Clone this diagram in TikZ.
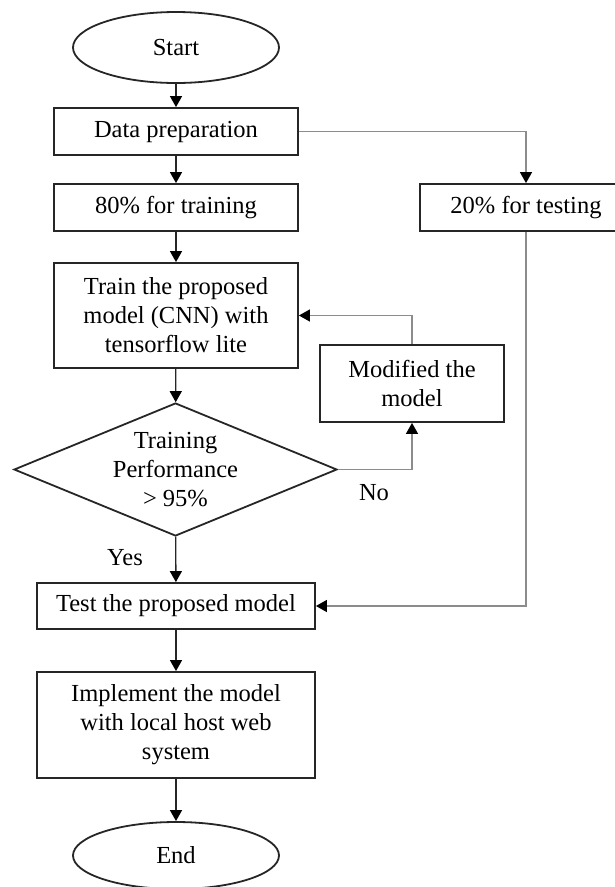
\documentclass[tikz,border=0pt]{standalone}
\usepackage{fontspec}
\setmainfont{Liberation Serif}
\usetikzlibrary{shapes.geometric,arrows.meta}

\begin{document}
\begin{tikzpicture}[x=10pt,y=-10pt,
        txt/.style={font=\fontsize{24.5}{29}\selectfont},
        box/.style={txt,draw=black!85,line width=1.8pt,fill=white,align=center,inner sep=2pt},
        term/.style={txt,ellipse,draw=black!85,line width=1.8pt,minimum width=206pt,minimum height=71pt,inner sep=0pt},
        decide/.style={txt,diamond,aspect=2.43,draw=black!85,line width=1.8pt,align=center,inner sep=0pt,minimum width=323pt,minimum height=133pt},
        flow/.style={-{Triangle[length=11pt,width=12pt,color=black]},line width=1.3pt,draw=black!85},
        side/.style={flow,draw=black!45}]
    \useasboundingbox (0,0) rectangle (61.4,88.7);

    % main column
    \node[term] (start) at (17.6,4.75) {Start};
    \node[box,minimum width=244pt,minimum height=47pt] (prep) at (17.6,13.15) {Data preparation};
    \node[box,minimum width=244pt,minimum height=47pt] (train80) at (17.6,20.75) {80\% for training};
    \node[box,minimum width=212pt,minimum height=47pt] (test20) at (52.6,20.75) {20\% for testing};
    \node[box,minimum width=244pt,minimum height=105pt] (trainm) at (17.6,31.55) {Train the proposed\\model (CNN) with\\tensorflow lite};
    \node[decide] (perf) at (17.55,46.95) {Training\\Performance\\> 95\%};
    \node[box,minimum width=184pt,minimum height=77pt] (modif) at (41.2,38.35) {Modified the\\model};
    \node[box,minimum width=278pt,minimum height=46pt] (testm) at (17.6,60.6) {Test the proposed model};
    \node[box,minimum width=278pt,minimum height=106pt] (impl) at (17.6,72.5) {Implement the model\\with local host web\\system};
    \node[term,minimum height=67pt] (finish) at (17.6,85.55) {End};

    \node[txt] (no) at (37.4,49.3) {No};
    \node[txt] (yes) at (12.5,55.8) {Yes};

    \draw[flow] (start) -- (prep);
    \draw[flow] (prep) -- (train80);
    \draw[flow] (train80) -- (trainm);
    \draw[flow] (trainm) -- (perf);
    \draw[flow] (perf) -- (testm);
    \draw[flow] (testm) -- (impl);
    \draw[flow] (impl) -- (finish);

    % side branches
    \draw[side] (prep.east) -| (test20.north);
    \draw[side] (test20.south) |- (testm.east);
    \draw[side] (perf.east) -| (modif.south);
    \draw[side] (modif.north) |- (trainm.east);
\end{tikzpicture}
\end{document}
